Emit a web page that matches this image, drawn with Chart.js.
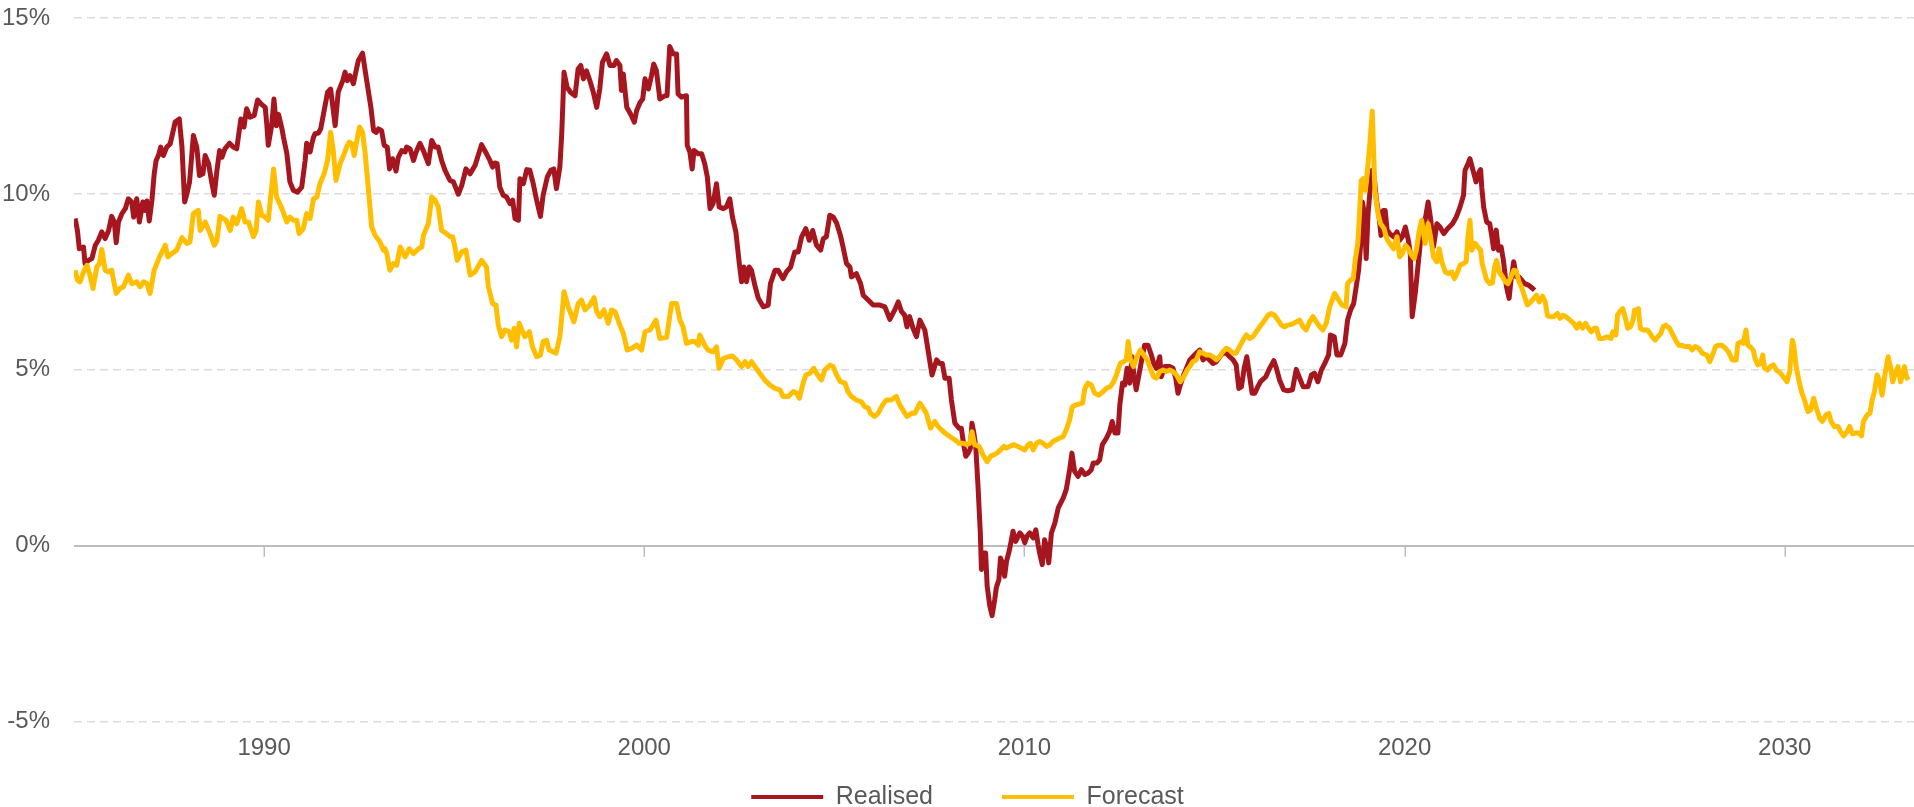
<!DOCTYPE html>
<html>
<head>
<meta charset="utf-8">
<script src="https://cdn.jsdelivr.net/npm/chart.js@4.4.1/dist/chart.umd.min.js"></script>
<style>
html,body{margin:0;padding:0;background:#ffffff;}
#wrap{width:1914px;height:807px;position:relative;}
</style>
</head>
<body>
<div id="wrap"><canvas id="c"></canvas></div>
<script>
// ---- data (decimal year, % value) ----
const xTicks = [1990, 2000, 2010, 2020, 2030];
const yTicks = [-5, 0, 5, 10, 15];
const seriesNames = ['Realised', 'Forecast'];

const realised = [
[1985.03,9.30],[1985.09,8.96],[1985.14,8.44],[1985.25,8.49],[1985.29,8.02],[1985.38,8.11],[1985.47,8.16],[1985.56,8.54],[1985.64,8.68],[1985.73,8.92],[1985.82,8.73],[1985.91,8.96],[1985.99,9.36],[1986.06,9.20],[1986.11,8.61],[1986.17,9.20],[1986.26,9.44],[1986.35,9.58],[1986.43,9.86],[1986.52,9.77],[1986.57,9.34],[1986.65,9.86],[1986.72,9.20],[1986.81,9.77],[1986.87,9.53],[1986.92,9.80],[1986.98,9.23],[1987.05,9.82],[1987.11,10.57],[1987.16,10.95],[1987.22,11.09],[1987.28,11.33],[1987.35,11.09],[1987.44,11.33],[1987.53,11.42],[1987.60,11.75],[1987.66,12.04],[1987.77,12.13],[1987.84,11.33],[1987.91,9.77],[1987.97,10.00],[1988.04,10.34],[1988.14,11.66],[1988.23,11.33],[1988.30,10.52],[1988.39,10.57],[1988.45,11.09],[1988.54,10.86],[1988.62,10.34],[1988.69,9.96],[1988.76,10.67],[1988.83,11.23],[1988.89,11.04],[1988.97,11.28],[1989.09,11.44],[1989.19,11.33],[1989.28,11.28],[1989.39,12.13],[1989.47,11.90],[1989.54,12.42],[1989.63,12.18],[1989.74,12.23],[1989.83,12.67],[1989.92,12.56],[1990.03,12.46],[1990.07,11.99],[1990.11,11.38],[1990.20,11.94],[1990.26,12.70],[1990.32,11.94],[1990.38,12.26],[1990.47,11.85],[1990.51,11.61],[1990.60,11.14],[1990.68,10.34],[1990.77,10.10],[1990.88,10.05],[1990.99,10.19],[1991.08,10.95],[1991.12,11.44],[1991.21,11.19],[1991.25,11.40],[1991.30,11.61],[1991.34,11.71],[1991.43,11.73],[1991.49,11.85],[1991.58,12.37],[1991.67,12.89],[1991.75,12.98],[1991.87,11.94],[1991.95,12.89],[1992.00,13.03],[1992.07,13.22],[1992.13,13.46],[1992.19,13.22],[1992.26,13.36],[1992.35,13.13],[1992.42,13.50],[1992.48,13.79],[1992.59,14.00],[1992.66,13.50],[1992.74,12.94],[1992.81,12.46],[1992.88,11.80],[1992.95,11.75],[1993.01,11.85],[1993.09,11.80],[1993.16,11.38],[1993.24,11.33],[1993.30,10.71],[1993.38,11.00],[1993.47,10.65],[1993.53,11.04],[1993.62,11.23],[1993.71,11.19],[1993.75,11.33],[1993.84,11.28],[1993.93,10.95],[1994.00,11.19],[1994.10,11.44],[1994.19,11.23],[1994.32,10.86],[1994.41,11.52],[1994.50,11.33],[1994.58,11.33],[1994.67,10.95],[1994.76,10.67],[1994.89,10.38],[1994.98,10.34],[1995.11,9.99],[1995.20,10.24],[1995.31,10.71],[1995.42,10.57],[1995.55,10.81],
[1995.72,11.40],[1995.85,11.14],[1995.94,10.95],[1996.01,10.76],[1996.07,10.88],[1996.13,10.86],[1996.20,10.19],[1996.29,9.96],[1996.38,9.91],[1996.47,9.72],[1996.54,9.82],[1996.60,9.30],[1996.69,9.25],[1996.73,10.43],[1996.82,10.29],[1996.91,10.69],[1996.99,10.67],[1997.08,10.29],[1997.17,9.82],[1997.27,9.36],[1997.34,9.96],[1997.45,10.48],[1997.54,10.67],[1997.62,10.71],[1997.69,10.15],[1997.78,10.76],[1997.83,11.71],[1997.89,13.46],[1997.97,13.03],[1998.06,12.89],[1998.18,12.79],[1998.26,13.55],[1998.33,13.65],[1998.40,13.27],[1998.48,13.50],[1998.57,13.22],[1998.66,12.89],[1998.75,12.46],[1998.83,12.98],[1998.90,13.74],[1999.01,13.98],[1999.10,13.65],[1999.20,13.65],[1999.27,13.79],[1999.36,13.65],[1999.40,12.94],[1999.45,13.41],[1999.54,12.46],[1999.64,12.27],[1999.74,12.04],[1999.80,12.37],[1999.89,12.60],[1999.96,12.70],[2000.02,13.27],[2000.11,12.98],[2000.19,13.36],[2000.25,13.69],[2000.32,13.50],[2000.41,12.70],[2000.54,12.79],[2000.60,12.79],[2000.67,14.19],[2000.76,13.98],[2000.85,13.98],[2000.89,12.84],[2000.98,12.75],[2001.11,12.79],[2001.13,11.38],[2001.20,11.19],[2001.26,10.71],[2001.31,11.23],[2001.42,11.14],[2001.51,11.14],[2001.59,10.86],[2001.66,10.48],[2001.73,9.58],[2001.81,9.72],[2001.90,10.29],[2001.97,9.63],[2002.08,9.58],[2002.16,9.63],[2002.25,9.86],[2002.32,9.34],[2002.41,8.92],[2002.50,8.02],[2002.56,7.50],[2002.62,7.92],[2002.69,7.50],[2002.76,7.92],[2002.82,7.83],[2002.91,7.40],[2003.00,7.03],[2003.13,6.79],[2003.26,6.84],[2003.32,7.45],[2003.44,7.83],[2003.52,7.83],[2003.65,7.59],[2003.74,7.78],[2003.85,7.92],[2003.96,8.35],[2004.05,8.35],[2004.14,8.78],[2004.25,9.01],[2004.34,8.68],[2004.43,8.96],[2004.53,8.54],[2004.64,8.40],[2004.71,8.73],[2004.79,8.78],[2004.88,9.39],[2004.97,9.34],[2005.06,9.17],[2005.16,8.82],[2005.23,8.49],[2005.32,8.02],[2005.41,7.92],[2005.45,7.64],[2005.58,7.73],[2005.69,7.45],[2005.76,7.12],[2005.89,6.98],[2006.02,6.84],[2006.20,6.84],[2006.33,6.79],[2006.46,6.43],[2006.59,6.70],[2006.68,6.93],[2006.77,6.65],[2006.85,6.55],[2006.91,6.22],[2006.98,6.51],[2007.07,6.18],[2007.16,5.94],[2007.25,6.41],[2007.38,6.13],
[2007.57,4.85],[2007.69,5.28],[2007.77,5.18],[2007.84,5.18],[2007.91,4.76],[2008.02,4.76],[2008.08,4.14],[2008.17,3.48],[2008.28,3.34],[2008.34,3.34],[2008.41,2.82],[2008.46,2.54],[2008.52,2.63],[2008.58,2.77],[2008.62,3.48],[2008.67,3.20],[2008.72,2.82],[2008.78,1.68],[2008.84,0.36],[2008.87,-0.68],[2008.93,-0.21],[2008.98,-0.21],[2009.02,-1.15],[2009.09,-1.72],[2009.15,-1.99],[2009.22,-1.53],[2009.26,-1.20],[2009.33,-0.96],[2009.37,-0.35],[2009.42,-0.49],[2009.48,-0.87],[2009.53,-0.44],[2009.61,-0.11],[2009.70,0.41],[2009.77,0.12],[2009.88,0.36],[2009.95,0.27],[2010.01,0.08],[2010.07,0.27],[2010.14,0.36],[2010.23,0.22],[2010.30,0.45],[2010.36,0.03],[2010.40,-0.21],[2010.47,-0.54],[2010.53,0.17],[2010.58,-0.02],[2010.64,-0.49],[2010.71,0.36],[2010.80,0.64],[2010.89,1.07],[2010.93,1.16],[2011.02,1.35],[2011.10,1.59],[2011.19,2.16],[2011.25,2.63],[2011.32,2.11],[2011.41,1.97],[2011.50,2.16],[2011.59,2.02],[2011.67,2.06],[2011.76,2.16],[2011.81,2.35],[2011.91,2.35],[2011.98,2.44],[2012.05,2.87],[2012.16,3.06],[2012.24,3.24],[2012.31,3.53],[2012.38,3.20],[2012.46,3.20],[2012.51,4.00],[2012.58,4.62],[2012.64,4.57],[2012.70,5.04],[2012.77,4.62],[2012.83,5.37],[2012.88,4.85],[2012.94,4.43],[2013.02,4.90],[2013.10,5.37],[2013.16,5.70],[2013.25,5.70],[2013.34,5.42],[2013.40,5.18],[2013.47,5.04],[2013.56,5.37],[2013.60,4.80],[2013.69,5.09],[2013.82,5.09],[2013.91,5.04],[2013.98,4.76],[2014.04,4.33],[2014.10,4.57],[2014.19,4.85],[2014.26,5.04],[2014.35,5.28],[2014.43,5.37],[2014.52,5.47],[2014.61,5.56],[2014.70,5.28],[2014.79,5.37],[2014.87,5.28],[2014.96,5.18],[2015.05,5.23],[2015.14,5.37],[2015.22,5.47],[2015.31,5.47],[2015.40,5.37],[2015.49,5.28],[2015.57,5.14],[2015.64,4.47],[2015.71,4.52],[2015.78,5.04],[2015.85,5.37],[2015.92,4.85],[2015.99,4.33],[2016.06,4.33],[2016.14,4.52],[2016.21,4.66],[2016.35,4.80],[2016.45,5.04],[2016.56,5.26],[2016.63,5.04],[2016.71,4.71],[2016.82,4.43],[2016.93,4.40],[2017.05,4.43],[2017.15,5.01],[2017.24,4.76],[2017.33,4.52],[2017.46,4.52],[2017.55,4.85],[2017.63,4.90],[2017.72,4.66],[2017.81,4.99],[2017.90,5.18],[2018.00,5.42],
[2018.05,5.99],[2018.15,5.94],[2018.22,5.42],[2018.32,5.42],[2018.43,5.75],[2018.50,6.41],[2018.58,6.70],[2018.66,6.88],[2018.74,7.45],[2018.79,7.83],[2018.84,8.49],[2018.89,9.77],[2018.94,9.44],[2018.99,8.16],[2019.04,9.44],[2019.10,10.19],[2019.15,10.67],[2019.20,10.48],[2019.26,9.82],[2019.32,9.44],[2019.38,8.82],[2019.44,9.53],[2019.49,9.53],[2019.54,8.97],[2019.61,8.87],[2019.71,8.78],[2019.80,8.92],[2019.87,8.68],[2019.94,8.78],[2020.02,9.06],[2020.10,8.68],[2020.15,8.30],[2020.20,6.51],[2020.28,7.17],[2020.35,7.92],[2020.43,8.78],[2020.54,9.25],[2020.62,9.77],[2020.69,9.25],[2020.76,8.49],[2020.85,9.15],[2020.93,9.06],[2021.03,8.87],[2021.13,9.01],[2021.26,9.15],[2021.36,9.34],[2021.46,9.63],[2021.55,9.96],[2021.59,10.67],[2021.65,10.81],[2021.72,11.00],[2021.79,10.71],[2021.88,10.34],[2021.96,10.62],[2022.00,10.69],[2022.03,10.19],[2022.08,9.63],[2022.16,9.20],[2022.24,9.15],[2022.29,8.82],[2022.34,8.44],[2022.41,8.97],[2022.47,8.40],[2022.54,8.49],[2022.60,8.11],[2022.68,7.36],[2022.75,7.03],[2022.80,7.55],[2022.87,8.07],[2022.94,7.64],[2023.01,7.64],[2023.08,7.55],[2023.16,7.45],[2023.27,7.40],[2023.37,7.31],[2023.42,7.26]
];

const forecast = [
[1985.03,7.83],[1985.09,7.55],[1985.16,7.50],[1985.25,7.78],[1985.34,7.97],[1985.43,7.64],[1985.50,7.31],[1985.60,7.92],[1985.67,8.02],[1985.73,8.42],[1985.82,7.83],[1985.91,7.78],[1985.99,7.83],[1986.11,7.17],[1986.21,7.31],[1986.30,7.36],[1986.43,7.69],[1986.52,7.45],[1986.65,7.50],[1986.74,7.36],[1986.83,7.50],[1986.92,7.45],[1987.00,7.17],[1987.11,7.83],[1987.25,8.21],[1987.40,8.54],[1987.47,8.21],[1987.57,8.30],[1987.70,8.40],[1987.84,8.76],[1987.97,8.59],[1988.05,8.63],[1988.14,9.44],[1988.27,9.53],[1988.32,8.96],[1988.45,9.20],[1988.58,8.87],[1988.69,8.54],[1988.76,8.68],[1988.84,9.36],[1989.00,9.25],[1989.11,8.96],[1989.19,9.34],[1989.28,9.15],[1989.41,9.58],[1989.50,9.20],[1989.59,9.20],[1989.72,8.78],[1989.79,8.96],[1989.85,9.77],[1989.94,9.39],[1990.03,9.34],[1990.11,9.25],[1990.25,10.71],[1990.33,9.91],[1990.47,9.58],[1990.60,9.20],[1990.68,9.34],[1990.77,9.25],[1990.86,9.25],[1990.92,8.87],[1991.03,9.01],[1991.12,9.44],[1991.21,9.30],[1991.30,9.86],[1991.39,9.91],[1991.47,10.29],[1991.58,10.57],[1991.67,10.95],[1991.75,11.75],[1991.82,11.23],[1991.89,10.38],[1992.00,10.86],[1992.09,11.09],[1992.17,11.33],[1992.24,11.47],[1992.31,11.42],[1992.37,11.09],[1992.44,11.52],[1992.51,11.90],[1992.59,11.75],[1992.66,11.14],[1992.74,10.19],[1992.83,9.06],[1992.92,8.82],[1993.05,8.63],[1993.14,8.40],[1993.18,8.44],[1993.23,8.30],[1993.31,7.83],[1993.40,8.02],[1993.49,7.97],[1993.58,8.49],[1993.71,8.21],[1993.82,8.44],[1993.93,8.30],[1994.06,8.44],[1994.15,8.49],[1994.19,8.82],[1994.32,9.15],[1994.41,9.91],[1994.50,9.82],[1994.58,9.63],[1994.67,8.96],[1994.80,8.87],[1994.89,8.78],[1994.96,8.78],[1995.02,8.49],[1995.08,8.11],[1995.20,8.35],[1995.31,8.40],[1995.42,7.69],[1995.55,7.78],
[1995.72,8.11],[1995.85,7.92],[1995.90,7.36],[1996.01,6.88],[1996.10,6.84],[1996.16,6.27],[1996.25,5.94],[1996.34,6.13],[1996.45,6.08],[1996.51,5.84],[1996.58,6.18],[1996.64,5.65],[1996.71,6.32],[1996.80,6.08],[1996.86,5.94],[1996.98,6.08],[1997.06,5.65],[1997.17,5.37],[1997.27,5.42],[1997.34,5.80],[1997.43,5.84],[1997.50,5.56],[1997.68,5.47],[1997.78,5.94],[1997.89,7.22],[1998.00,6.79],[1998.15,6.36],[1998.26,6.88],[1998.35,6.98],[1998.44,6.70],[1998.57,6.84],[1998.68,7.05],[1998.75,6.65],[1998.83,6.51],[1998.94,6.70],[1999.05,6.32],[1999.14,6.70],[1999.23,6.65],[1999.36,6.27],[1999.45,6.03],[1999.55,5.56],[1999.67,5.61],[1999.80,5.70],[1999.93,5.56],[2000.02,6.08],[2000.15,6.13],[2000.31,6.41],[2000.41,5.89],[2000.59,5.92],[2000.72,6.88],[2000.85,6.88],[2000.94,6.41],[2001.02,6.22],[2001.11,5.75],[2001.24,5.80],[2001.33,5.80],[2001.42,5.70],[2001.46,5.99],[2001.59,5.70],[2001.68,5.56],[2001.81,5.51],[2001.90,5.65],[2001.97,5.04],[2002.08,5.32],[2002.21,5.37],[2002.32,5.39],[2002.43,5.28],[2002.56,5.09],[2002.65,5.23],[2002.73,5.09],[2002.82,5.23],[2002.91,5.09],[2003.04,4.90],[2003.17,4.71],[2003.30,4.57],[2003.44,4.47],[2003.57,4.43],[2003.65,4.24],[2003.79,4.24],[2003.92,4.38],[2004.01,4.33],[2004.08,4.19],[2004.18,4.62],[2004.25,4.85],[2004.36,4.90],[2004.46,5.04],[2004.53,4.90],[2004.66,4.71],[2004.75,4.99],[2004.88,5.13],[2004.97,5.09],[2005.06,4.85],[2005.16,4.66],[2005.28,4.62],[2005.36,4.38],[2005.45,4.24],[2005.58,4.14],[2005.71,4.09],[2005.80,3.95],[2005.89,3.91],[2005.95,3.76],[2006.06,3.67],[2006.15,3.76],[2006.27,4.00],[2006.37,4.14],[2006.50,4.14],[2006.63,4.24],[2006.72,4.00],[2006.83,3.81],[2006.91,3.67],[2007.03,3.76],[2007.12,3.76],[2007.25,4.05],[2007.34,3.91],[2007.42,3.76],
[2007.53,3.34],[2007.64,3.53],[2007.73,3.39],[2007.82,3.29],[2007.91,3.20],[2008.04,3.10],[2008.17,3.01],[2008.28,2.91],[2008.39,2.91],[2008.48,2.87],[2008.56,2.91],[2008.62,3.24],[2008.69,2.87],[2008.81,2.82],[2008.91,2.58],[2009.02,2.39],[2009.11,2.54],[2009.19,2.58],[2009.28,2.63],[2009.37,2.72],[2009.46,2.82],[2009.53,2.77],[2009.61,2.82],[2009.72,2.87],[2009.83,2.82],[2009.92,2.77],[2010.01,2.72],[2010.10,2.87],[2010.16,2.91],[2010.23,2.72],[2010.32,2.91],[2010.40,2.96],[2010.49,2.91],[2010.58,2.82],[2010.67,2.87],[2010.75,2.96],[2010.84,3.01],[2010.93,3.06],[2011.02,3.10],[2011.10,3.29],[2011.19,3.58],[2011.26,3.95],[2011.35,4.00],[2011.46,4.03],[2011.53,4.05],[2011.59,4.47],[2011.67,4.62],[2011.76,4.57],[2011.85,4.33],[2011.96,4.28],[2012.07,4.38],[2012.16,4.47],[2012.26,4.52],[2012.35,4.66],[2012.42,4.85],[2012.52,5.18],[2012.61,5.23],[2012.68,5.28],[2012.73,5.80],[2012.79,5.28],[2012.87,5.09],[2012.96,5.37],[2013.05,5.56],[2013.14,5.42],[2013.23,5.28],[2013.31,5.04],[2013.40,4.80],[2013.47,4.76],[2013.56,4.95],[2013.65,4.99],[2013.73,4.95],[2013.82,4.99],[2013.91,4.95],[2014.00,4.85],[2014.10,4.66],[2014.19,4.80],[2014.28,4.99],[2014.35,5.09],[2014.43,5.23],[2014.52,5.28],[2014.61,5.51],[2014.70,5.47],[2014.79,5.42],[2014.87,5.42],[2014.96,5.37],[2015.05,5.28],[2015.14,5.37],[2015.22,5.51],[2015.31,5.61],[2015.40,5.56],[2015.49,5.47],[2015.57,5.47],[2015.66,5.66],[2015.75,5.84],[2015.84,5.99],[2015.92,5.89],[2016.01,5.94],[2016.10,6.08],[2016.19,6.22],[2016.32,6.41],[2016.41,6.55],[2016.49,6.60],[2016.58,6.55],[2016.67,6.41],[2016.76,6.27],[2016.84,6.22],[2016.93,6.27],[2017.05,6.30],[2017.15,6.36],[2017.24,6.41],[2017.33,6.22],[2017.41,6.13],[2017.50,6.36],[2017.59,6.51],[2017.68,6.36],[2017.77,6.22],[2017.85,6.13],[2017.94,6.32],[2018.03,6.79],[2018.16,7.17],
[2018.27,6.98],[2018.35,6.84],[2018.46,6.79],[2018.50,7.45],[2018.58,7.55],[2018.65,7.59],[2018.70,8.11],[2018.77,8.59],[2018.81,9.34],[2018.86,10.38],[2018.91,10.43],[2018.97,10.10],[2019.04,10.86],[2019.10,11.61],[2019.15,12.35],[2019.22,10.10],[2019.30,9.44],[2019.37,9.15],[2019.46,9.01],[2019.53,8.73],[2019.61,8.59],[2019.71,8.44],[2019.80,8.78],[2019.87,8.21],[2019.94,8.30],[2020.02,8.54],[2020.10,8.44],[2020.18,8.26],[2020.25,8.16],[2020.31,8.40],[2020.38,8.92],[2020.45,9.25],[2020.54,8.59],[2020.62,9.15],[2020.69,8.73],[2020.76,8.21],[2020.85,8.07],[2020.91,8.44],[2020.98,8.07],[2021.07,7.78],[2021.15,7.74],[2021.24,7.78],[2021.31,7.59],[2021.38,7.74],[2021.46,7.97],[2021.55,8.02],[2021.62,8.07],[2021.67,8.82],[2021.72,9.25],[2021.77,8.40],[2021.86,8.59],[2021.93,8.49],[2022.00,8.40],[2022.04,8.02],[2022.10,7.78],[2022.16,7.55],[2022.24,7.45],[2022.31,7.47],[2022.37,7.92],[2022.42,8.11],[2022.49,7.78],[2022.58,7.64],[2022.65,7.50],[2022.72,7.45],[2022.80,7.64],[2022.87,7.83],[2022.94,7.81],[2023.01,7.50],[2023.09,7.31],[2023.16,7.07],[2023.23,6.84],[2023.32,6.93],[2023.40,7.03],[2023.47,7.12],[2023.54,6.93],[2023.63,7.09],[2023.70,6.93],[2023.76,6.53],[2023.83,6.51],[2023.93,6.51],[2024.02,6.60],[2024.09,6.46],[2024.16,6.55],[2024.24,6.51],[2024.35,6.41],[2024.45,6.32],[2024.53,6.18],[2024.60,6.32],[2024.68,6.18],[2024.76,6.32],[2024.84,6.18],[2024.91,6.08],[2024.99,6.18],[2025.05,6.18],[2025.12,5.89],[2025.22,5.89],[2025.32,5.94],[2025.43,5.89],[2025.48,6.08],[2025.56,5.99],[2025.60,6.55],[2025.66,6.65],[2025.74,6.74],[2025.81,6.46],[2025.87,6.18],[2025.94,6.22],[2026.01,6.41],[2026.05,6.70],[2026.12,6.70],[2026.15,6.74],[2026.20,6.18],[2026.28,6.13],[2026.39,6.13],[2026.46,6.03],[2026.51,5.94],[2026.59,5.84],[2026.66,5.94],[2026.74,6.03],[2026.80,6.22],[2026.87,6.27],[2026.97,6.18],[2027.04,6.03],[2027.13,5.84],[2027.21,5.70],[2027.28,5.70],[2027.38,5.66],[2027.49,5.66],[2027.56,5.56],[2027.64,5.66],[2027.74,5.61],[2027.83,5.47],[2027.95,5.42],[2028.03,5.23],[2028.10,5.42],[2028.18,5.66],[2028.26,5.70],[2028.34,5.70],[2028.44,5.61],[2028.52,5.51],[2028.62,5.28],[2028.72,5.28],[2028.77,5.75],[2028.86,5.80],[2028.91,5.75],[2028.98,6.13],[2029.03,5.70],[2029.08,5.66],[2029.17,5.56],[2029.22,5.32],[2029.29,5.14],[2029.37,5.18],[2029.42,5.42],[2029.47,5.04],[2029.55,4.99],[2029.62,5.09],[2029.70,5.14],[2029.78,4.99],[2029.89,4.90],[2029.99,4.76],[2030.06,4.66],[2030.13,4.95],[2030.20,5.84],[2030.24,5.66],[2030.30,5.09],[2030.37,4.71],[2030.44,4.38],[2030.52,4.14],[2030.61,3.81],[2030.68,3.86],[2030.76,4.19],[2030.83,3.91],[2030.92,3.62],[2030.99,3.53],[2031.09,3.72],[2031.16,3.76],[2031.22,3.53],[2031.30,3.39],[2031.40,3.39],[2031.47,3.24],[2031.55,3.12],[2031.64,3.24],[2031.71,3.39],[2031.78,3.18],[2031.86,3.20],[2031.95,3.20],[2032.02,3.12],[2032.07,3.53],[2032.17,3.72],[2032.24,3.76],[2032.30,4.14],[2032.36,4.38],[2032.43,4.85],[2032.50,4.66],[2032.56,4.28],[2032.64,4.90],[2032.72,5.37],[2032.79,5.04],[2032.84,4.66],[2032.91,4.90],[2032.98,5.09],[2033.05,4.66],[2033.10,4.90],[2033.15,5.09],[2033.20,4.80],[2033.25,4.71]
];

// ---- styling ----
const RED = '#a6161f';
const GOLD = '#ffbe00';
const TEXT = '#595959';
const GRID = '#dcdcdc';
const ZERO = '#bdbdbd';
const LEGEND_FONT = 25;

Chart.defaults.font.family = '"Liberation Sans", Arial, Helvetica, sans-serif';

// short tick marks hanging below the zero line at each x tick
const zeroTicks = {
  id: 'zeroTicks',
  beforeDatasetsDraw(chart) {
    const {ctx, scales: {x, y}} = chart;
    const y0 = y.getPixelForValue(0);
    ctx.save();
    ctx.strokeStyle = ZERO;
    ctx.lineWidth = 1.5;
    x.ticks.forEach(t => {
      const px = Math.round(x.getPixelForValue(t.value)) + 0.25;
      ctx.beginPath();
      ctx.moveTo(px, y0);
      ctx.lineTo(px, y0 + 11);
      ctx.stroke();
    });
    ctx.restore();
  }
};

// move the built-in legend items up near the bottom edge while keeping wide item spacing
const legendShift = {
  id: 'legendShift',
  afterInit(chart) {
    const lg = chart.legend;
    if (!lg || lg._shiftWrapped) return;
    lg._shiftWrapped = true;
    const baseDraw = lg._draw;
    lg._draw = function (...args) {
      const pad = this.options.labels.padding;
      const naturalMid = this.top + pad + LEGEND_FONT / 2;
      const targetMid = chart.height - 10;
      const c = this.ctx;
      c.save();
      c.translate(10.5, targetMid - naturalMid);
      baseDraw.apply(this, args);
      c.restore();
    };
  }
};

const isZero = c => c.tick && c.tick.value === 0;

new Chart(document.getElementById('c'), {
  type: 'line',
  data: {
    datasets: [
      {
        label: seriesNames[0],
        data: realised.map(([x, y]) => ({x, y})),
        borderColor: RED, backgroundColor: RED,
        borderWidth: 5, pointRadius: 0, pointHoverRadius: 0,
        tension: 0, borderJoinStyle: 'round', fill: false, order: 1
      },
      {
        label: seriesNames[1],
        data: forecast.map(([x, y]) => ({x, y})),
        borderColor: GOLD, backgroundColor: GOLD,
        borderWidth: 5, pointRadius: 0, pointHoverRadius: 0,
        tension: 0, borderJoinStyle: 'round', fill: false, order: 0
      }
    ]
  },
  options: {
    responsive: true,
    maintainAspectRatio: false,
    animation: false,
    events: [],
    layout: { padding: { top: 18, left: 0, right: 0, bottom: 0 } },
    scales: {
      x: {
        type: 'linear',
        min: 1985,
        max: 2033.4,
        afterBuildTicks: a => { a.ticks = xTicks.map(v => ({value: v})); },
        afterFit: a => { a.height = 41; a.paddingLeft = 0; a.paddingRight = 0; },
        grid: { display: false, drawTicks: false },
        border: { display: false },
        ticks: {
          padding: 12, color: TEXT, font: { size: 24 },
          maxRotation: 0, autoSkip: false,
          callback: v => String(v)
        }
      },
      y: {
        type: 'linear',
        min: -5,
        max: 15,
        afterBuildTicks: a => { a.ticks = yTicks.map(v => ({value: v})); },
        afterFit: a => { a.width = 74; a.paddingTop = 0; a.paddingBottom = 0; },
        grid: {
          color: c => isZero(c) ? ZERO : GRID,
          lineWidth: c => isZero(c) ? 2 : 1.5,
          drawTicks: false
        },
        border: { display: false, dash: c => isZero(c) ? [] : [8, 5] },
        ticks: {
          padding: 24, color: TEXT, font: { size: 24 },
          callback: v => v + '%'
        }
      }
    },
    plugins: {
      legend: {
        position: 'bottom',
        maxHeight: 44.5,
        labels: {
          boxWidth: 72,
          boxHeight: 4,
          padding: 69,
          color: TEXT,
          font: { size: LEGEND_FONT },
          sort: (a, b) => a.datasetIndex - b.datasetIndex,
          generateLabels: chart => Chart.defaults.plugins.legend.labels.generateLabels(chart)
            .map(item => Object.assign(item, { lineWidth: 0, fillStyle: item.strokeStyle }))
        }
      },
      tooltip: { enabled: false }
    }
  },
  plugins: [zeroTicks, legendShift]
});
</script>
</body>
</html>
